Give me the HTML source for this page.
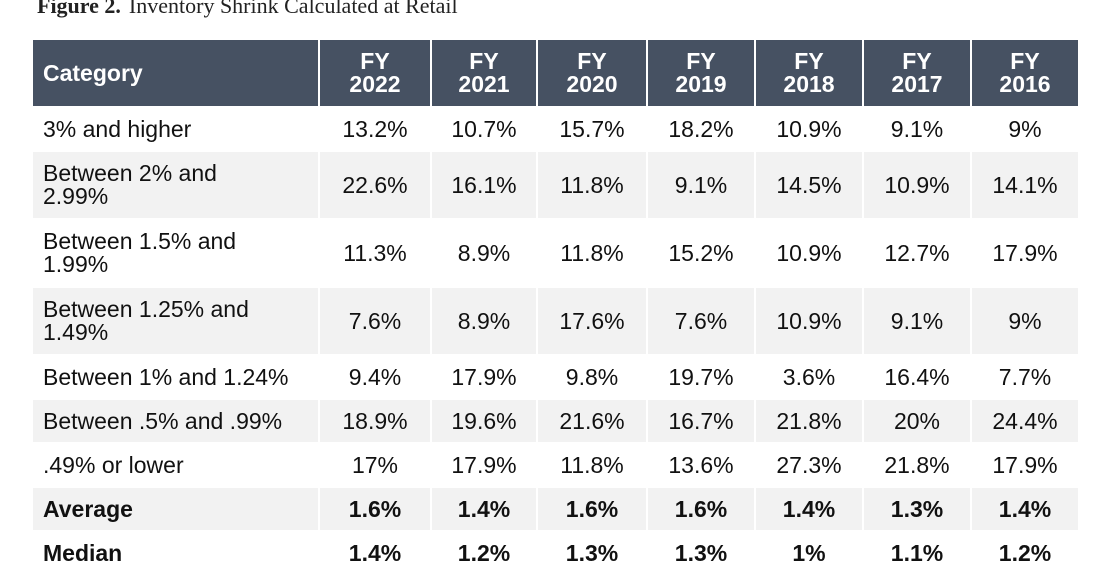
<!DOCTYPE html>
<html><head><meta charset="utf-8"><style>
body{margin:0;width:1110px;height:570px;overflow:hidden;background:#fff;font-family:"Liberation Sans",sans-serif;position:relative}
.title{position:absolute;left:37px;top:-7px;font-family:"Liberation Serif",serif;font-size:22px;color:#222}
.title b{margin-right:8px}
table{position:absolute;left:31px;top:38px;border-collapse:separate;border-spacing:2px;table-layout:fixed}
td,th{padding:0;color:#111;font-size:23px;text-align:center;vertical-align:middle}
th{background:#465162;color:#fff;font-weight:bold;font-size:23px;line-height:23px;height:66px}
th.cat{text-align:left;padding-left:10px}
td.cat{text-align:left;padding-left:10px;line-height:23px}
tr.g td{background:#f2f2f2}
tr.b td{font-weight:bold}
</style></head><body>
<div class="title"><b>Figure 2.</b>Inventory Shrink Calculated at Retail</div>
<table>
<colgroup><col style="width:285px"><col style="width:110px"><col style="width:104px"><col style="width:108px"><col style="width:106px"><col style="width:106px"><col style="width:106px"><col style="width:106px"></colgroup>
<tr><th class="cat">Category</th><th>FY<br>2022</th><th>FY<br>2021</th><th>FY<br>2020</th><th>FY<br>2019</th><th>FY<br>2018</th><th>FY<br>2017</th><th>FY<br>2016</th></tr>
<tr style="height:42px"><td class="cat">3% and higher</td><td>13.2%</td><td>10.7%</td><td>15.7%</td><td>18.2%</td><td>10.9%</td><td>9.1%</td><td>9%</td></tr>
<tr class="g" style="height:66px"><td class="cat">Between 2% and<br>2.99%</td><td>22.6%</td><td>16.1%</td><td>11.8%</td><td>9.1%</td><td>14.5%</td><td>10.9%</td><td>14.1%</td></tr>
<tr style="height:66px"><td class="cat">Between 1.5% and<br>1.99%</td><td>11.3%</td><td>8.9%</td><td>11.8%</td><td>15.2%</td><td>10.9%</td><td>12.7%</td><td>17.9%</td></tr>
<tr class="g" style="height:66px"><td class="cat">Between 1.25% and<br>1.49%</td><td>7.6%</td><td>8.9%</td><td>17.6%</td><td>7.6%</td><td>10.9%</td><td>9.1%</td><td>9%</td></tr>
<tr style="height:42px"><td class="cat">Between 1% and 1.24%</td><td>9.4%</td><td>17.9%</td><td>9.8%</td><td>19.7%</td><td>3.6%</td><td>16.4%</td><td>7.7%</td></tr>
<tr class="g" style="height:42px"><td class="cat">Between .5% and .99%</td><td>18.9%</td><td>19.6%</td><td>21.6%</td><td>16.7%</td><td>21.8%</td><td>20%</td><td>24.4%</td></tr>
<tr style="height:42px"><td class="cat">.49% or lower</td><td>17%</td><td>17.9%</td><td>11.8%</td><td>13.6%</td><td>27.3%</td><td>21.8%</td><td>17.9%</td></tr>
<tr class="g b" style="height:42px"><td class="cat">Average</td><td>1.6%</td><td>1.4%</td><td>1.6%</td><td>1.6%</td><td>1.4%</td><td>1.3%</td><td>1.4%</td></tr>
<tr class="b" style="height:42px"><td class="cat">Median</td><td>1.4%</td><td>1.2%</td><td>1.3%</td><td>1.3%</td><td>1%</td><td>1.1%</td><td>1.2%</td></tr>
</table>
</body></html>
